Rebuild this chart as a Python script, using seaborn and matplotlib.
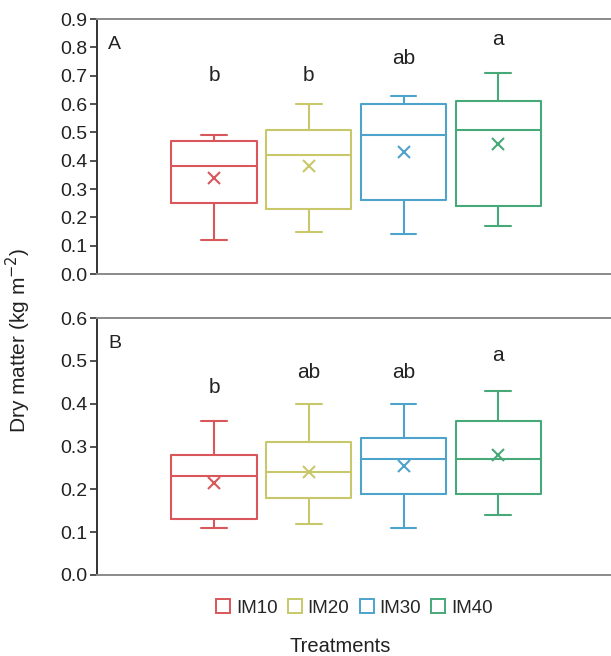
import numpy as np
import pandas as pd
import matplotlib
matplotlib.use("Agg")
import matplotlib.pyplot as plt
import seaborn as sns
from matplotlib.patches import Patch

# treatments and colours
treatments = ["IM10", "IM20", "IM30", "IM40"]
colors = ["#d9575b", "#c8c86a", "#4ea3cb", "#47a878"]

# five-number summaries: whisker low, Q1, median, Q3, whisker high
a_low = [0.12, 0.15, 0.14, 0.17]
a_q1 = [0.25, 0.23, 0.26, 0.24]
a_med = [0.38, 0.42, 0.49, 0.51]
a_q3 = [0.47, 0.51, 0.60, 0.61]
a_high = [0.49, 0.60, 0.63, 0.71]
a_mean = [0.34, 0.38, 0.43, 0.46]
a_letters = ["b", "b", "ab", "a"]
a_letter_y = [0.68, 0.68, 0.74, 0.81]

b_low = [0.11, 0.12, 0.11, 0.14]
b_q1 = [0.13, 0.18, 0.19, 0.19]
b_med = [0.23, 0.24, 0.27, 0.27]
b_q3 = [0.28, 0.31, 0.32, 0.36]
b_high = [0.36, 0.40, 0.40, 0.43]
b_mean = [0.215, 0.24, 0.255, 0.28]
b_letters = ["b", "ab", "ab", "a"]
b_letter_y = [0.425, 0.46, 0.46, 0.50]

sns.set_theme(style="white")
plt.rcParams["font.family"] = ["Liberation Sans", "DejaVu Sans"]
plt.rcParams["font.size"] = 14


def summary_frame(low, q1, med, q3, high):
    rows = []
    for i, t in enumerate(treatments):
        for v in (low[i], q1[i], med[i], q3[i], high[i]):
            rows.append({"treatment": t, "dm": v})
    return pd.DataFrame(rows)


def draw_panel(ax, low, q1, med, q3, high, mean, letters, letter_y, ymax, label):
    df = summary_frame(low, q1, med, q3, high)
    sns.boxplot(data=df, x="treatment", y="dm", hue="treatment", palette=colors,
                order=treatments, hue_order=treatments, fill=False, width=0.9, gap=0,
                whis=(0, 100), linewidth=1.5, legend=False, ax=ax)
    means = pd.DataFrame({"treatment": treatments, "mean": mean})
    sns.pointplot(data=means, x="treatment", y="mean", hue="treatment", palette=colors,
                  order=treatments, hue_order=treatments, markers="x", linestyles="none",
                  errorbar=None, legend=False, markersize=8, markeredgewidth=1.5, ax=ax)
    # shorten the whisker caps
    for line in ax.lines:
        xd = np.asarray(line.get_xdata(), dtype=float)
        yd = np.asarray(line.get_ydata(), dtype=float)
        if len(xd) == 2 and yd[0] == yd[1] and abs(xd[1] - xd[0]) < 0.6 and xd[0] != xd[1]:
            c = xd.mean()
            line.set_xdata([c - 0.135, c + 0.135])
    for i, (txt, y) in enumerate(zip(letters, letter_y)):
        ax.text(i, y, txt, ha="center", va="baseline", fontsize=15, color="#222222")
    ax.text(0.022, 0.935, label, transform=ax.transAxes, fontsize=14, va="top", color="#222222")
    ax.set_xlim(-1.235, 4.19)
    ax.set_ylim(0, ymax)
    ticks = np.arange(0, ymax + 0.001, 0.1)
    ax.set_yticks(ticks)
    ax.set_yticklabels([f"{v:.1f}" for v in ticks])
    ax.set_xticks([])
    ax.set_xlabel("")
    ax.set_ylabel("")
    ax.tick_params(axis="y", direction="out", length=5, width=1.2, color="#333333",
                   labelsize=14, labelcolor="#222222", left=True, pad=2)
    ax.spines["right"].set_visible(False)
    ax.spines["left"].set_color("#333333")
    ax.spines["left"].set_linewidth(1.4)
    for s in ("top", "bottom"):
        ax.spines[s].set_color("#8a8a8a")
        ax.spines[s].set_linewidth(1.4)


fig = plt.figure(figsize=(6.11, 6.56), dpi=100)
ax_a = fig.add_axes([0.1588, 0.5823, 0.8412, 0.3887])
ax_b = fig.add_axes([0.1588, 0.1235, 0.8412, 0.3917])

draw_panel(ax_a, a_low, a_q1, a_med, a_q3, a_high, a_mean, a_letters, a_letter_y, 0.9, "A")
draw_panel(ax_b, b_low, b_q1, b_med, b_q3, b_high, b_mean, b_letters, b_letter_y, 0.6, "B")

handles = [Patch(facecolor="white", edgecolor=c, linewidth=1.4, label=t)
           for t, c in zip(treatments, colors)]
fig.legend(handles=handles, loc="center", bbox_to_anchor=(0.58, 0.073), ncol=4,
           frameon=False, fontsize=13.5, handlelength=0.75, handleheight=0.75,
           handletextpad=0.3, columnspacing=0.55)
fig.text(0.557, 0.0, "Treatments", ha="center", va="bottom", fontsize=14.5, color="#222222")
fig.text(0.03, 0.482, "Dry matter (kg m$^{-2}$)", rotation=90, ha="center", va="center",
         fontsize=15, color="#222222")

fig.savefig("out.png", dpi=100)
